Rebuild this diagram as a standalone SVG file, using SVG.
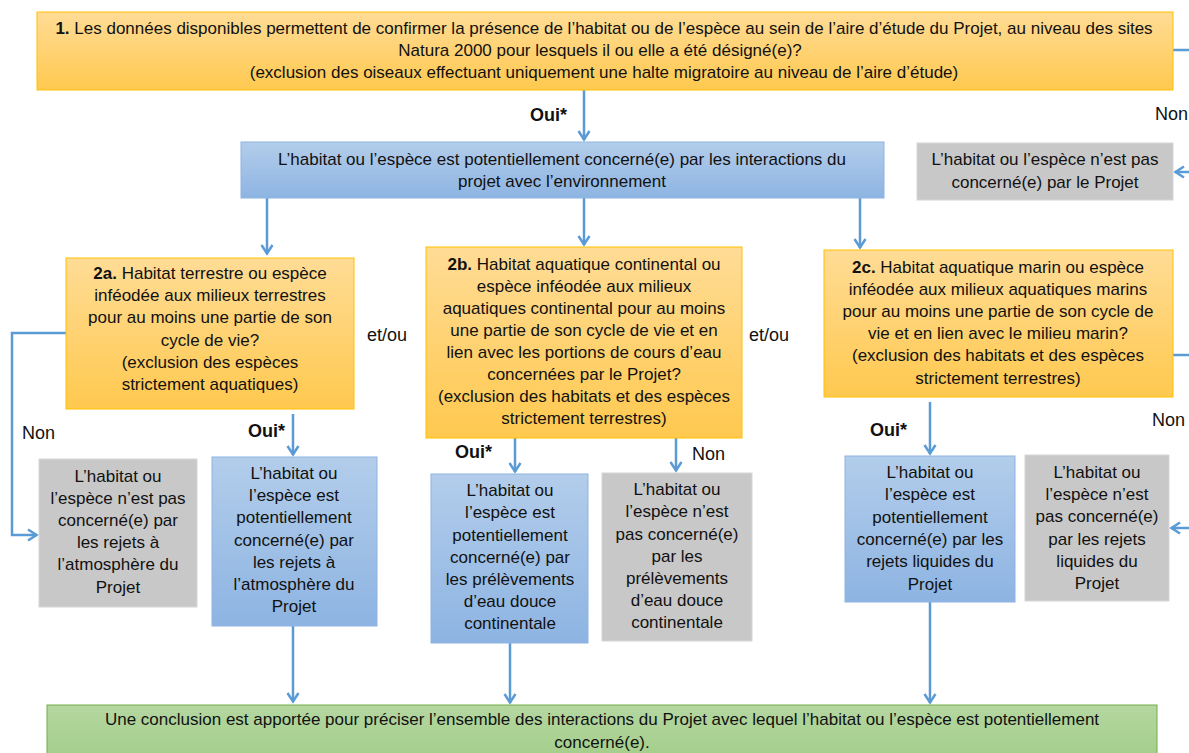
<svg xmlns="http://www.w3.org/2000/svg" width="1189" height="753" viewBox="0 0 1189 753">
<style>
text{font-family:"Liberation Sans",Arial,sans-serif;font-size:17px;fill:#111}
.c{text-anchor:middle}
.b{font-weight:bold}
.lb{font-size:18px}
.or{fill:url(#gOr);stroke:#FFC000;stroke-width:1}
.bl{fill:url(#gBl);stroke:#8DB3E2;stroke-width:1}
.gr{fill:#C8C8C8;stroke:#D6D6D6;stroke-width:1}
.gn{fill:url(#gGn);stroke:#70AD47;stroke-width:1}
.ln{fill:none;stroke:#5B9BD5;stroke-width:2.5}
</style>
<defs>
<linearGradient id="gOr" x1="0" y1="0" x2="0" y2="1"><stop offset="0" stop-color="#FFDC96"/><stop offset="1" stop-color="#FFC94F"/></linearGradient>
<linearGradient id="gBl" x1="0" y1="0" x2="0" y2="1"><stop offset="0" stop-color="#B3CDEB"/><stop offset="1" stop-color="#8DB4E2"/></linearGradient>
<linearGradient id="gGn" x1="0" y1="0" x2="0" y2="1"><stop offset="0" stop-color="#B4D7A0"/><stop offset="1" stop-color="#A2CD88"/></linearGradient>
<marker id="arr" viewBox="0 0 14 14" refX="12" refY="7" markerWidth="14" markerHeight="14" orient="auto" markerUnits="userSpaceOnUse"><path d="M3,1.5 L11.5,7 L3,12.5" fill="none" stroke="#5B9BD5" stroke-width="2.5"/></marker>
</defs>

<g id="connectors">
<path class="ln" d="M584,90 V140" marker-end="url(#arr)"/>
<path class="ln" d="M1173,50 H1189"/>
<path class="ln" d="M1189,172 H1175" marker-end="url(#arr)"/>
<path class="ln" d="M267,198 V254" marker-end="url(#arr)"/>
<path class="ln" d="M584,198 V245" marker-end="url(#arr)"/>
<path class="ln" d="M860,198 V248" marker-end="url(#arr)"/>
<path class="ln" d="M66,333 H12 V535 H37" marker-end="url(#arr)"/>
<path class="ln" d="M293,414 V455" marker-end="url(#arr)"/>
<path class="ln" d="M515,438 V472" marker-end="url(#arr)"/>
<path class="ln" d="M676,438 V471" marker-end="url(#arr)"/>
<path class="ln" d="M930,402 V454" marker-end="url(#arr)"/>
<path class="ln" d="M1173,355 H1189"/>
<path class="ln" d="M1189,528 H1171" marker-end="url(#arr)"/>
<path class="ln" d="M293,626 V702" marker-end="url(#arr)"/>
<path class="ln" d="M510,643 V703" marker-end="url(#arr)"/>
<path class="ln" d="M930,602 V703" marker-end="url(#arr)"/>
</g>

<g id="labels">
<text class="b lb" x="530" y="121">Oui*</text>
<text class="lb" x="1155" y="120">Non</text>
<text class="lb" x="367" y="341">et/ou</text>
<text class="lb" x="749" y="341">et/ou</text>
<text class="lb" x="22" y="439">Non</text>
<text class="b lb" x="248" y="437">Oui*</text>
<text class="b lb" x="455" y="458">Oui*</text>
<text class="lb" x="692" y="460">Non</text>
<text class="b lb" x="870" y="436">Oui*</text>
<text class="lb" x="1152" y="426">Non</text>
</g>

<g id="q1">
<rect class="or" x="37" y="12" width="1136" height="78"/>
<text class="c" x="604" y="34"><tspan class="b">1.</tspan> Les données disponibles permettent de confirmer la présence de l’habitat ou de l’espèce au sein de l’aire d’étude du Projet, au niveau des sites</text>
<text class="c" x="600" y="56">Natura 2000 pour lesquels il ou elle a été désigné(e)?</text>
<text class="c" x="604" y="78">(exclusion des oiseaux effectuant uniquement une halte migratoire au niveau de l’aire d’étude)</text>
</g>

<g id="concerned">
<rect class="bl" x="241" y="142" width="643" height="56"/>
<text class="c" x="562" y="165">L’habitat ou l’espèce est potentiellement concerné(e) par les interactions du</text>
<text class="c" x="562" y="187">projet avec l’environnement</text>
</g>

<g id="notConcerned">
<rect class="gr" x="917" y="143" width="256" height="57"/>
<text class="c" x="1045" y="165">L’habitat ou l’espèce n’est pas</text>
<text class="c" x="1045" y="188">concerné(e) par le Projet</text>
</g>

<g id="q2a">
<rect class="or" x="66" y="258" width="288" height="151"/>
<text class="c" x="210" y="279"><tspan class="b">2a.</tspan> Habitat terrestre ou espèce</text>
<text class="c" x="210" y="301">inféodée aux milieux terrestres</text>
<text class="c" x="210" y="323">pour au moins une partie de son</text>
<text class="c" x="210" y="346">cycle de vie?</text>
<text class="c" x="210" y="368">(exclusion des espèces</text>
<text class="c" x="210" y="390">strictement aquatiques)</text>
</g>

<g id="q2b">
<rect class="or" x="426" y="247" width="316" height="191"/>
<text class="c" x="584" y="270"><tspan class="b">2b.</tspan> Habitat aquatique continental ou</text>
<text class="c" x="584" y="292">espèce inféodée aux milieux</text>
<text class="c" x="584" y="314">aquatiques continental pour au moins</text>
<text class="c" x="584" y="336">une partie de son cycle de vie et en</text>
<text class="c" x="584" y="358">lien avec les portions de cours d’eau</text>
<text class="c" x="584" y="380">concernées par le Projet?</text>
<text class="c" x="584" y="402">(exclusion des habitats et des espèces</text>
<text class="c" x="584" y="424">strictement terrestres)</text>
</g>

<g id="q2c">
<rect class="or" x="824" y="250" width="349" height="147"/>
<text class="c" x="998" y="273"><tspan class="b">2c.</tspan> Habitat aquatique marin ou espèce</text>
<text class="c" x="998" y="295">inféodée aux milieux aquatiques marins</text>
<text class="c" x="998" y="317">pour au moins une partie de son cycle de</text>
<text class="c" x="998" y="339">vie et en lien avec le milieu marin?</text>
<text class="c" x="998" y="361">(exclusion des habitats et des espèces</text>
<text class="c" x="998" y="384">strictement terrestres)</text>
</g>

<g id="no2a">
<rect class="gr" x="39" y="459" width="158" height="148"/>
<text class="c" x="118" y="482">L’habitat ou</text>
<text class="c" x="118" y="504">l’espèce n’est pas</text>
<text class="c" x="118" y="526">concerné(e) par</text>
<text class="c" x="118" y="548">les rejets à</text>
<text class="c" x="118" y="570">l’atmosphère du</text>
<text class="c" x="118" y="593">Projet</text>
</g>

<g id="yes2a">
<rect class="bl" x="212" y="457" width="165" height="169"/>
<text class="c" x="294" y="479">L’habitat ou</text>
<text class="c" x="294" y="501">l’espèce est</text>
<text class="c" x="294" y="523">potentiellement</text>
<text class="c" x="294" y="546">concerné(e) par</text>
<text class="c" x="294" y="568">les rejets à</text>
<text class="c" x="294" y="590">l’atmosphère du</text>
<text class="c" x="294" y="612">Projet</text>
</g>

<g id="yes2b">
<rect class="bl" x="431" y="474" width="157" height="169"/>
<text class="c" x="510" y="496">L’habitat ou</text>
<text class="c" x="510" y="518">l’espèce est</text>
<text class="c" x="510" y="541">potentiellement</text>
<text class="c" x="510" y="563">concerné(e) par</text>
<text class="c" x="510" y="585">les prélèvements</text>
<text class="c" x="510" y="607">d’eau douce</text>
<text class="c" x="510" y="629">continentale</text>
</g>

<g id="no2b">
<rect class="gr" x="602" y="473" width="150" height="168"/>
<text class="c" x="677" y="495">L’habitat ou</text>
<text class="c" x="677" y="517">l’espèce n’est</text>
<text class="c" x="677" y="540">pas concerné(e)</text>
<text class="c" x="677" y="562">par les</text>
<text class="c" x="677" y="584">prélèvements</text>
<text class="c" x="677" y="606">d’eau douce</text>
<text class="c" x="677" y="628">continentale</text>
</g>

<g id="yes2c">
<rect class="bl" x="845" y="456" width="170" height="146"/>
<text class="c" x="930" y="478">L’habitat ou</text>
<text class="c" x="930" y="500">l’espèce est</text>
<text class="c" x="930" y="523">potentiellement</text>
<text class="c" x="930" y="545">concerné(e) par les</text>
<text class="c" x="930" y="567">rejets liquides du</text>
<text class="c" x="930" y="590">Projet</text>
</g>

<g id="no2c">
<rect class="gr" x="1025" y="455" width="144" height="146"/>
<text class="c" x="1097" y="478">L’habitat ou</text>
<text class="c" x="1097" y="500">l’espèce n’est</text>
<text class="c" x="1097" y="522">pas concerné(e)</text>
<text class="c" x="1097" y="545">par les rejets</text>
<text class="c" x="1097" y="567">liquides du</text>
<text class="c" x="1097" y="589">Projet</text>
</g>

<g id="conclusion">
<rect class="gn" x="47" y="705" width="1110" height="60"/>
<text class="c" x="602" y="725">Une conclusion est apportée pour préciser l’ensemble des interactions du Projet avec lequel l’habitat ou l’espèce est potentiellement</text>
<text class="c" x="602" y="748">concerné(e).</text>
</g>
</svg>
